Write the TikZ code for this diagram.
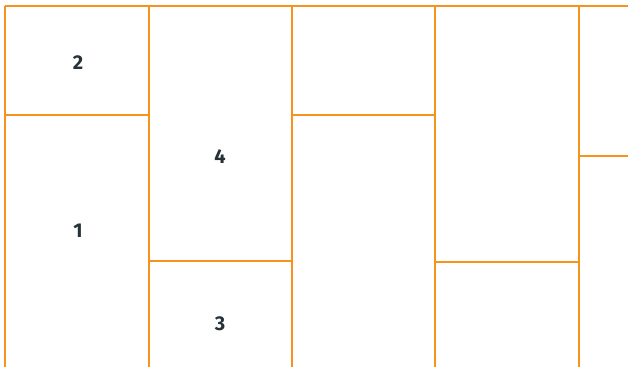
\documentclass[tikz,border=0pt]{standalone}
\usepackage{fontspec}
\setmainfont{Fira Sans}
\definecolor{gridorange}{RGB}{246,146,30}
\definecolor{labeldark}{RGB}{38,50,56}
\tikzset{
  gridline/.style={draw=gridorange, line width=1.4pt},
  celllabel/.style={font=\fontsize{20}{24}\selectfont\bfseries, text=labeldark, inner sep=0pt}
}
\begin{document}
\begin{tikzpicture}[x=1pt,y=-1pt]
\useasboundingbox (0,0) rectangle (628,367);
% top edge
\draw[gridline] (5,6) -- (628,6);
% vertical lines
\foreach \xx in {5,149,292,435,579}
  \draw[gridline] (\xx,6) -- (\xx,367);
% horizontal dividers
\draw[gridline] (5,115) -- (149,115);
\draw[gridline] (149,261) -- (292,261);
\draw[gridline] (292,115) -- (435,115);
\draw[gridline] (435,262) -- (579,262);
\draw[gridline] (579,156) -- (628,156);
% labels
\node[celllabel] (c2) at (78,62.5) {2};
\node[celllabel] (c1) at (78,230.5) {1};
\node[celllabel] (c4) at (220,156.5) {4};
\node[celllabel] (c3) at (220,323.5) {3};
\end{tikzpicture}
\end{document}
